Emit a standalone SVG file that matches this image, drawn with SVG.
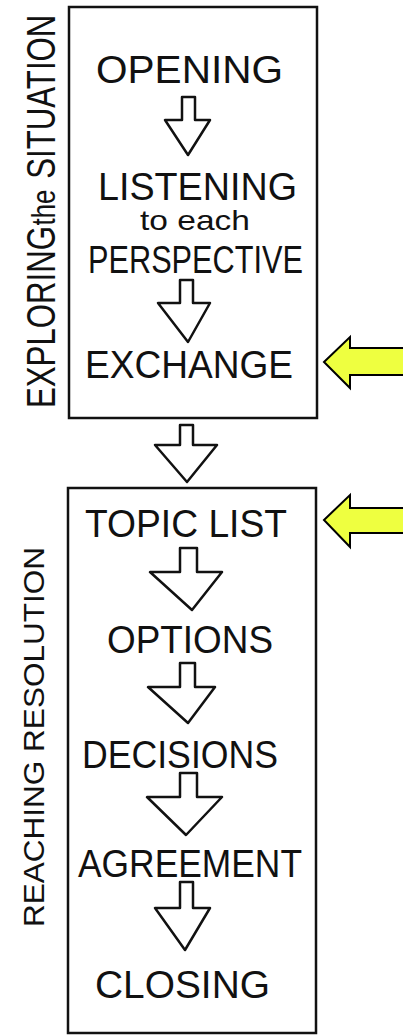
<svg xmlns="http://www.w3.org/2000/svg" width="403" height="1036" viewBox="0 0 403 1036">
<style>
.box{fill:none;stroke:#111;stroke-width:2.5}
.down{fill:#fff;stroke:#111;stroke-width:2.5;stroke-linejoin:round}
.yel{fill:#eeff40;stroke:#000;stroke-width:2;stroke-linejoin:miter}
.t{font-family:"Liberation Sans","DejaVu Sans",sans-serif;fill:#111;font-size:38px}
.s{font-family:"Liberation Sans","DejaVu Sans",sans-serif;fill:#111;font-size:28px}
.lab{font-family:"Liberation Sans","DejaVu Sans",sans-serif;fill:#111}
</style>
<rect width="403" height="1036" fill="#fff"/>
<g id="group-exploring">
<rect class="box" x="69" y="7" width="248" height="411"/>
<text class="lab" font-size="40" transform="translate(55,408) rotate(-90) scale(0.78,1)"><tspan x="0" y="0">EXPLORING</tspan><tspan x="234" y="0" font-size="33">the</tspan><tspan x="294" y="0">SITUATION</tspan></text>
</g>
<g id="group-reaching">
<rect class="box" x="68" y="488" width="248" height="545"/>
<text class="lab" font-size="29" transform="translate(44,927) rotate(-90)" textLength="380" lengthAdjust="spacingAndGlyphs">REACHING RESOLUTION</text>
</g>
<g id="node-opening"><text class="t" x="96" y="83" textLength="187" lengthAdjust="spacingAndGlyphs">OPENING</text></g>
<g id="node-listening">
<text class="t" x="98" y="200" textLength="199" lengthAdjust="spacingAndGlyphs">LISTENING</text>
<text class="s" x="140" y="230" textLength="110" lengthAdjust="spacingAndGlyphs">to each</text>
<text class="t" x="88" y="273" textLength="215" lengthAdjust="spacingAndGlyphs">PERSPECTIVE</text>
</g>
<g id="node-exchange"><text class="t" x="85" y="378" font-size="44" textLength="208" lengthAdjust="spacingAndGlyphs">EXCHANGE</text></g>
<g id="node-topic"><text class="t" x="85" y="537" font-size="35" textLength="202" lengthAdjust="spacingAndGlyphs">TOPIC LIST</text></g>
<g id="node-options"><text class="t" x="107" y="653" font-size="36" textLength="166" lengthAdjust="spacingAndGlyphs">OPTIONS</text></g>
<g id="node-decisions"><text class="t" x="82" y="768" font-size="41" textLength="196" lengthAdjust="spacingAndGlyphs">DECISIONS</text></g>
<g id="node-agreement"><text class="t" x="78" y="877" font-size="41" textLength="224" lengthAdjust="spacingAndGlyphs">AGREEMENT</text></g>
<g id="node-closing"><text class="t" x="95" y="998" font-size="47" textLength="175" lengthAdjust="spacingAndGlyphs">CLOSING</text></g>
<g id="connectors">
<polygon class="down" points="182,97 195,97 195,120 210,120 188,155 165,120 182,120"/>
<polygon class="down" points="180,280 193,280 193,303 210,303 188,342 158,303 180,303"/>
<polygon class="down" points="180,425 193,425 193,445 217,445 187,482 155,445 180,445"/>
<polygon class="down" points="180,548 197,548 197,572 222,572 192,610 150,572 180,572"/>
<polygon class="down" points="180,663 195,663 195,687 215,687 188,723 148,687 180,687"/>
<polygon class="down" points="180,773 197,773 197,797 222,797 186,835 147,797 180,797"/>
<polygon class="down" points="180,882 193,882 193,908 210,908 185,950 155,908 180,908"/>
<polygon class="yel" points="324,362 350,337 350,348 406,348 406,375 350,375 350,388"/>
<polygon class="yel" points="324,520 350,495 350,508 406,508 406,533 350,533 350,547"/>
</g>
</svg>
